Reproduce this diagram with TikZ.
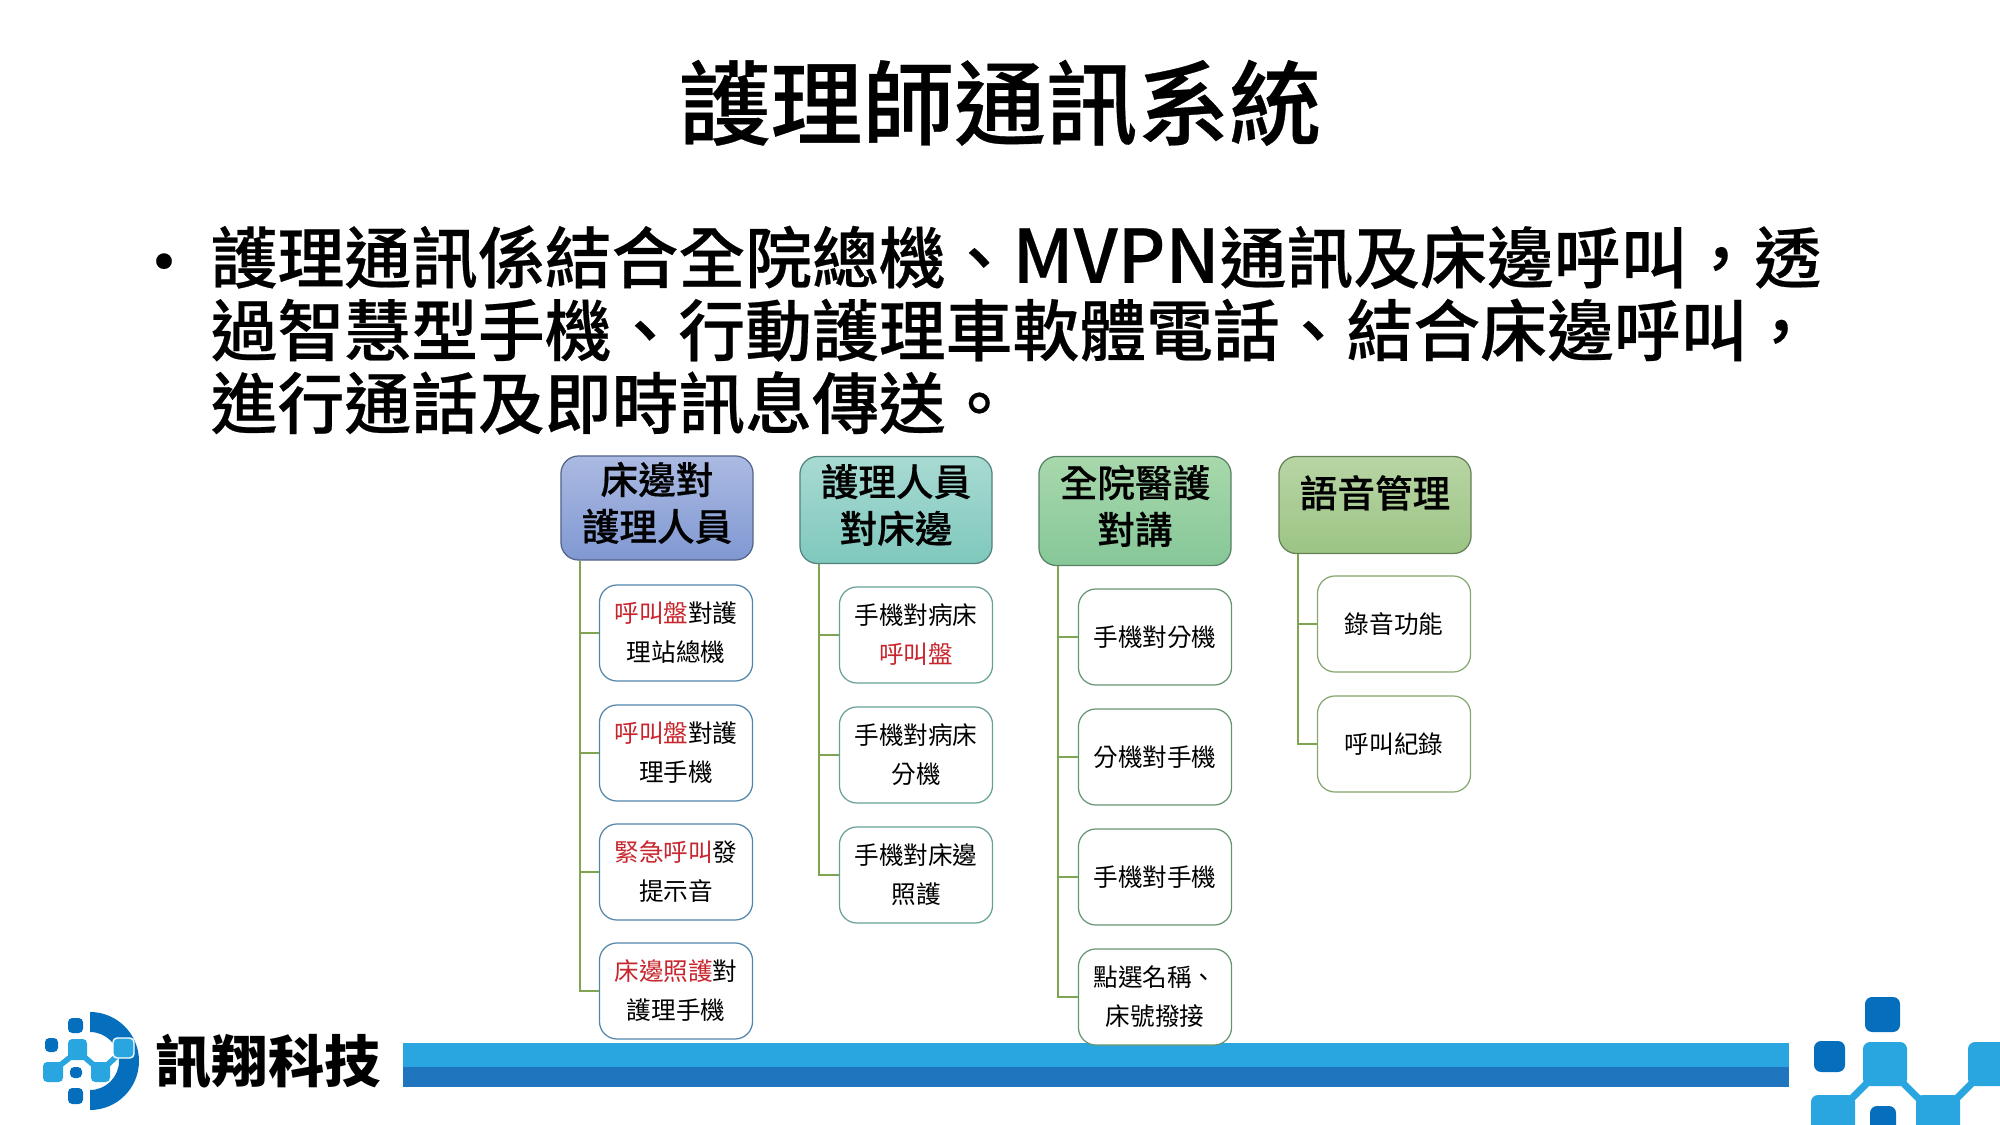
\documentclass[tikz,border=0pt]{standalone}
\usepackage{fontspec}
\setmainfont[BoldFont={Noto Sans CJK TC Medium}, BoldFeatures={FakeBold=0.35}]{Noto Sans CJK TC}
\newfontfamily\brandfont{Noto Sans CJK TC Black}
\usetikzlibrary{positioning}
\definecolor{mred}{HTML}{C8262E}
\definecolor{mtrunk}{HTML}{7FA552}
\definecolor{mlight}{HTML}{29A6DF}
\definecolor{mdark}{HTML}{1F75BE}
\definecolor{mlogo}{HTML}{066FBD}
\definecolor{mblueA}{HTML}{ABBAE2}
\definecolor{mblueB}{HTML}{8098D2}
\definecolor{mtealA}{HTML}{A8DAD2}
\definecolor{mtealB}{HTML}{7FC8BD}
\definecolor{mgreenA}{HTML}{A8D8AC}
\definecolor{mgreenB}{HTML}{86C798}
\definecolor{moliveA}{HTML}{B8D5A4}
\definecolor{moliveB}{HTML}{9CC485}
\newcommand{\hdrlines}[2]{\raisebox{-0.3pt}{\begin{tabular}{@{}c@{}}#1\\#2\end{tabular}}}
\tikzset{
  hdr/.style={rounded corners=5pt, minimum width=192*0.1mm, inner sep=0pt, align=center,
    font=\fontsize{10.7}{13.3}\selectfont\bfseries, line width=0.35pt},
  kid/.style={draw, rounded corners=5pt, fill=white, minimum width=153*0.1mm, minimum height=96*0.1mm,
    inner sep=0pt, align=center, font=\fontsize{7}{11.1}\selectfont, line width=0.35pt},
  trunk/.style={mtrunk, line width=0.6pt},
  dsq/.style={fill=mlogo, rounded corners=1.2pt},
  lsq/.style={fill=mlight, rounded corners=1.2pt},
}
\begin{document}
\begin{tikzpicture}[x=0.01cm, y=-0.01cm]
    \useasboundingbox (0, 0) rectangle (2000, 1125);

    % heading and text
    \node [font=\fontsize{26.1}{30}\selectfont\bfseries] (title) at (1000, 103) {護理師通訊系統};
    \node [font=\fontsize{19}{21}\selectfont\bfseries] (dot) at (164, 270) {•};
    \node [anchor=west, inner sep=0pt, align=left, font=\fontsize{19}{20.7}\selectfont\bfseries] (body) at (210, 330)
      {護理通訊係結合全院總機、{\fontsize{21}{20.7}\selectfont MVPN}通訊及床邊呼叫，透\\過智慧型手機、行動護理車軟體電話、結合床邊呼叫，\\進行通話及即時訊息傳送。};

    % bottom bar
    \fill [mlight] (403, 1043) rectangle (1789, 1067);
    \fill [mdark] (403, 1067) rectangle (1789, 1087);

    % first column
    \node [hdr, draw=black!35!mblueB, top color=mblueA, bottom color=mblueB, minimum height=104*0.1mm] (bed) at (657, 508) {\hdrlines{床邊對}{護理人員}};
    \begin{scope}[every node/.style={kid, draw=black!10!mblueB!70!teal}]
      \node (bedA) at (676, 633) {\textcolor{mred}{呼叫盤}對護\\理站總機};
      \node (bedB) at (676, 753) {\textcolor{mred}{呼叫盤}對護\\理手機};
      \node (bedC) at (676, 872) {\textcolor{mred}{緊急呼叫}發\\提示音};
      \node (bedD) at (676, 991) {\textcolor{mred}{床邊照護}對\\護理手機};
    \end{scope}
    \foreach \n in {bedA, bedB, bedC, bedD}
      \draw [trunk] ([xshift=20*0.1mm]bed.south west) |- (\n.west);

    % second column
    \node [hdr, draw=black!35!mtealB, top color=mtealA, bottom color=mtealB, minimum height=107*0.1mm] (nurse) at (896, 510) {\hdrlines{護理人員}{對床邊}};
    \begin{scope}[every node/.style={kid, draw=mtealB!80!black}]
      \node (nurseA) at (916, 635) {手機對病床\\\textcolor{mred}{呼叫盤}};
      \node (nurseB) at (916, 755) {手機對病床\\分機};
      \node (nurseC) at (916, 875) {手機對床邊\\照護};
    \end{scope}
    \foreach \n in {nurseA, nurseB, nurseC}
      \draw [trunk] ([xshift=20*0.1mm]nurse.south west) |- (\n.west);

    % third column
    \node [hdr, draw=black!35!mgreenB, top color=mgreenA, bottom color=mgreenB, minimum height=109*0.1mm] (ward) at (1135, 511) {\hdrlines{全院醫護}{對講}};
    \begin{scope}[every node/.style={kid, draw=mgreenB!75!black}]
      \node (wardA) at (1155, 637) {手機對分機};
      \node (wardB) at (1155, 757) {分機對手機};
      \node (wardC) at (1155, 877) {手機對手機};
      \node (wardD) at (1155, 997) {點選名稱、\\床號撥接};
    \end{scope}
    \foreach \n in {wardA, wardB, wardC, wardD}
      \draw [trunk] ([xshift=20*0.1mm]ward.south west) |- (\n.west);

    % fourth column
    \node [hdr, draw=black!35!moliveB, top color=moliveA, bottom color=moliveB, minimum height=97*0.1mm] (voice) at (1375, 505) {\raisebox{7.8pt}{語音管理}};
    \begin{scope}[every node/.style={kid, draw=moliveB!85!black}]
      \node (voiceA) at (1394, 624) {錄音功能};
      \node (voiceB) at (1394, 744) {呼叫紀錄};
    \end{scope}
    \foreach \n in {voiceA, voiceB}
      \draw [trunk] ([xshift=20*0.1mm]voice.south west) |- (\n.west);

    % logo on the left
    \fill [mlogo] (90, 1012) arc (-90:90:49) -- (90, 1090) arc (90:-90:29) -- cycle;
    \draw [mlight, line width=1.6pt] (73, 1055) -- (58, 1067);
    \draw [mlight, line width=1.6pt] (82, 1055) -- (96, 1067);
    \draw [mlight, line width=1.6pt] (105, 1067) -- (118, 1055);
    \fill [dsq] (68, 1018) rectangle (83, 1033);
    \fill [dsq] (45, 1038) rectangle (58, 1052);
    \fill [dsq] (68, 1088) rectangle (83, 1104);
    \fill [dsq] (70, 1067) rectangle (82, 1078);
    \fill [lsq] (68, 1039) rectangle (87, 1060);
    \fill [lsq] (43, 1062) rectangle (63, 1082);
    \fill [lsq] (91, 1062) rectangle (110, 1082);
    \fill [lsq, draw=white, line width=0.4pt] (113, 1038) rectangle (134, 1058);
    \node [font=\fontsize{16}{18}\selectfont\brandfont] (brand) at (268, 1062) {訊翔科技};

    % logo on the right
    \begin{scope}
      \clip (0, 0) rectangle (2000, 1125);
      \draw [mlight, line width=2pt] (1870, 1080) -- (1850, 1100);
      \draw [mlight, line width=2pt] (1900, 1080) -- (1920, 1100);
      \draw [mlight, line width=2pt] (1955, 1100) -- (1975, 1080);
      \fill [dsq, rounded corners=2pt] (1865, 997) rectangle (1900, 1032);
      \fill [dsq, rounded corners=2pt] (1814, 1041) rectangle (1845, 1072);
      \fill [lsq, rounded corners=2pt] (1863, 1042) rectangle (1907, 1086);
      \fill [lsq, rounded corners=2pt] (1968, 1042) rectangle (2020, 1086);
      \fill [lsq, rounded corners=2pt] (1811, 1095) rectangle (1855, 1140);
      \fill [lsq, rounded corners=2pt] (1916, 1095) rectangle (1960, 1140);
      \fill [dsq, rounded corners=2pt] (1870, 1106) rectangle (1896, 1140);
    \end{scope}
\end{tikzpicture}
\end{document}
